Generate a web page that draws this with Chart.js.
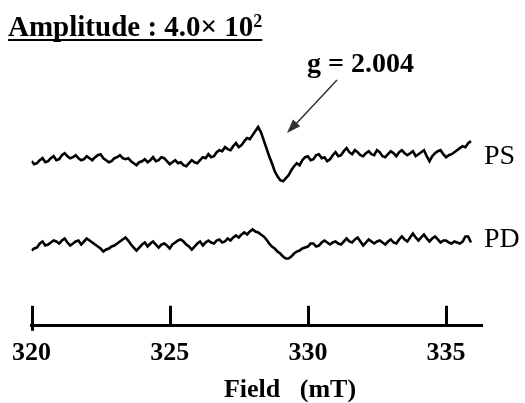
<!DOCTYPE html>
<html>
<head>
<meta charset="utf-8">
<script src="https://cdn.jsdelivr.net/npm/chart.js@4/dist/chart.umd.min.js"></script>
<style>
  html, body { margin: 0; padding: 0; background: #fff; }
  #wrap { position: relative; width: 525px; height: 403px; }
</style>
</head>
<body>
<div id="wrap"><canvas id="esr"></canvas></div>
<script>
// EPR spectra, field sweep in mT
const fields = [
  320.0, 320.1, 320.2, 320.3, 320.4, 320.5, 320.6, 320.7, 320.8, 320.9,
  321.0, 321.1, 321.2, 321.3, 321.4, 321.5, 321.6, 321.7, 321.8, 321.9,
  322.0, 322.1, 322.2, 322.3, 322.4, 322.5, 322.6, 322.7, 322.8, 322.9,
  323.0, 323.1, 323.2, 323.3, 323.4, 323.5, 323.6, 323.7, 323.8, 323.9,
  324.0, 324.1, 324.2, 324.3, 324.4, 324.5, 324.6, 324.7, 324.8, 324.9,
  325.0, 325.1, 325.2, 325.3, 325.4, 325.5, 325.6, 325.7, 325.8, 325.9,
  326.0, 326.1, 326.2, 326.3, 326.4, 326.5, 326.6, 326.7, 326.8, 326.9,
  327.0, 327.1, 327.2, 327.3, 327.4, 327.5, 327.6, 327.7, 327.8, 327.9,
  328.0, 328.1, 328.2, 328.3, 328.4, 328.5, 328.6, 328.7, 328.8, 328.9,
  329.0, 329.1, 329.2, 329.3, 329.4, 329.5, 329.6, 329.7, 329.8, 329.9,
  330.0, 330.1, 330.2, 330.3, 330.4, 330.5, 330.6, 330.7, 330.8, 330.9,
  331.0, 331.1, 331.2, 331.3, 331.4, 331.5, 331.6, 331.7, 331.8, 331.9,
  332.0, 332.1, 332.2, 332.3, 332.4, 332.5, 332.6, 332.7, 332.8, 332.9,
  333.0, 333.1, 333.2, 333.3, 333.4, 333.5, 333.6, 333.7, 333.8, 333.9,
  334.0, 334.1, 334.2, 334.3, 334.4, 334.5, 334.6, 334.7, 334.8, 334.9,
  335.0, 335.1, 335.2, 335.3, 335.4, 335.5, 335.6, 335.7, 335.8, 335.9
];

// signal (arb. units)
const psSignal = [
  -1, -4, -3, 0, 2, -2, -1, 2, 4, 0,
  1, 5, 7, 4, 2, 3, 5, 2, 0, 1,
  4, 2, 0, 3, 5, 6, 2, 0, -2, -1,
  2, 3, 5, 2, 1, 2, -1, -3, -5, -2,
  -1, 1, -2, 0, 3, -1, 0, 3, 2, -1,
  -4, -2, 0, -3, -2, -5, -6, -3, 0, -2,
  -3, 0, 3, 2, 6, 3, 4, 8, 10, 9,
  13, 11, 10, 14, 17, 13, 15, 19, 22, 21,
  25, 29, 33, 28, 20, 12, 4, -3, -11, -16,
  -20, -21, -18, -15, -10, -6, -3, -5, 0, 3,
  4, 0, 1, 5, 6, 2, 3, -1, 1, 5,
  8, 4, 5, 9, 12, 8, 6, 10, 8, 5,
  4, 7, 9, 6, 5, 10, 8, 4, 3, 6,
  9, 7, 4, 8, 10, 7, 5, 7, 9, 4,
  6, 8, 10, 4, -1, 4, 7, 9, 10, 6,
  3, 5, 6, 8, 10, 12, 14, 13, 17, 19
];
const pdSignal = [
  -7, -5, -4, 0, 2, -2, -1, 1, 3, 2,
  0, 3, 5, 1, -2, 0, 2, 3, -1, 2,
  5, 3, 1, -1, -3, -5, -8, -6, -5, -3,
  -2, 0, 2, 4, 6, 3, -1, -4, -7, -4,
  -1, 1, -3, 0, 2, -1, -4, -1, 0, -2,
  -5, -1, 1, 3, 4, 2, -1, -3, -6, -3,
  0, 2, -2, 1, 3, 1, 0, 3, 4, 1,
  2, 5, 3, 6, 8, 6, 9, 11, 9, 12,
  14, 12, 11, 9, 7, 4, 0, -3, -5, -8,
  -10, -13, -15, -15, -13, -10, -8, -7, -5, -4,
  -3, 0, 0, -3, -2, 1, 3, 1, -1, 1,
  2, 0, -1, 2, 5, 2, 1, 4, 6, 2,
  -2, 1, 4, 2, 0, 2, 3, 1, -1, 2,
  4, 1, 0, 4, 7, 4, 2, 6, 10, 6,
  3, 6, 9, 5, 2, 5, 7, 4, 1, 3,
  3, 1, 0, 2, 1, 0, 2, 7, 7, 1
];

const seriesNames = ['PS', 'PD'];
const seriesOffsets = [165, 82]; // vertical stacking of the two traces
const xTicks = [320, 325, 330, 335];

const serif = '"Liberation Serif", "Times New Roman", serif';

function toPoints(signal, offset) {
  return fields.map((f, i) => ({ x: f, y: signal[i] + offset }));
}

const annotations = {
  id: 'annotations',
  afterDraw(chart) {
    const { ctx, chartArea, scales } = chart;
    const xs = scales.x, ys = scales.y;
    ctx.save();

    // tick marks point up from the axis
    ctx.strokeStyle = '#000';
    ctx.lineWidth = 3;
    xs.ticks.forEach(t => {
      const px = Math.round(xs.getPixelForValue(t.value)) + 0.5;
      ctx.beginPath();
      ctx.moveTo(px, chartArea.bottom + (t.value === xTicks[0] ? 5 : 0));
      ctx.lineTo(px, chartArea.bottom - 20);
      ctx.stroke();
    });

    // amplitude header
    ctx.fillStyle = '#000';
    ctx.textBaseline = 'alphabetic';
    ctx.textAlign = 'left';
    ctx.font = 'bold 29px ' + serif;
    const head = 'Amplitude : 4.0\u00d7 10';
    ctx.fillText(head, 8, 36);
    const w = ctx.measureText(head).width;
    ctx.font = 'bold 18px ' + serif;
    ctx.fillText('2', 8 + w, 27);
    const w2 = ctx.measureText('2').width;
    ctx.lineWidth = 2;
    ctx.beginPath();
    ctx.moveTo(8, 40);
    ctx.lineTo(8 + w + w2, 40);
    ctx.stroke();

    // g-value label and arrow
    ctx.font = 'bold 28px ' + serif;
    ctx.fillText('g = 2.004', 307, 72);
    ctx.strokeStyle = '#333';
    ctx.fillStyle = '#333';
    ctx.lineWidth = 1.5;
    ctx.beginPath();
    ctx.moveTo(337, 80);
    ctx.lineTo(294, 126);
    ctx.stroke();
    ctx.beginPath();
    ctx.moveTo(287, 133);
    ctx.lineTo(300.2, 126.2);
    ctx.lineTo(293.0, 119.4);
    ctx.closePath();
    ctx.fill();

    // series names at the right end of each trace
    ctx.fillStyle = '#000';
    ctx.font = '28px ' + serif;
    ctx.textBaseline = 'middle';
    const lastX = xs.getPixelForValue(fields[fields.length - 1]);
    seriesNames.forEach((name, k) => {
      ctx.fillText(name, lastX + 13, ys.getPixelForValue(seriesOffsets[k]) - 4);
    });

    // axis title
    ctx.font = 'bold 26px ' + serif;
    ctx.textAlign = 'center';
    ctx.fillText('Field\u00a0\u00a0\u00a0(mT)', 290, 390);
    ctx.restore();
  }
};

new Chart(document.getElementById('esr'), {
  type: 'line',
  data: {
    datasets: [
      { label: seriesNames[0], data: toPoints(psSignal, seriesOffsets[0]) },
      { label: seriesNames[1], data: toPoints(pdSignal, seriesOffsets[1]) }
    ]
  },
  options: {
    responsive: true,
    maintainAspectRatio: false,
    animation: false,
    layout: { padding: { left: 31, right: 43, top: 100, bottom: 22 } },
    elements: {
      line: { borderColor: '#000', borderWidth: 2.6, tension: 0, borderJoinStyle: 'miter' },
      point: { radius: 0 }
    },
    plugins: {
      legend: { display: false },
      tooltip: { enabled: false }
    },
    scales: {
      x: {
        type: 'linear',
        min: 320,
        max: 336.3,
        grid: { display: false, drawTicks: false },
        border: { display: true, color: '#000', width: 3 },
        ticks: {
          stepSize: 5,
          includeBounds: false,
          padding: 12,
          color: '#000',
          font: { family: serif, size: 26, weight: 'bold' },
          maxRotation: 0,
          autoSkip: false
        }
      },
      y: {
        display: false,
        min: 0,
        max: 225
      }
    }
  },
  plugins: [annotations]
});
</script>
</body>
</html>
